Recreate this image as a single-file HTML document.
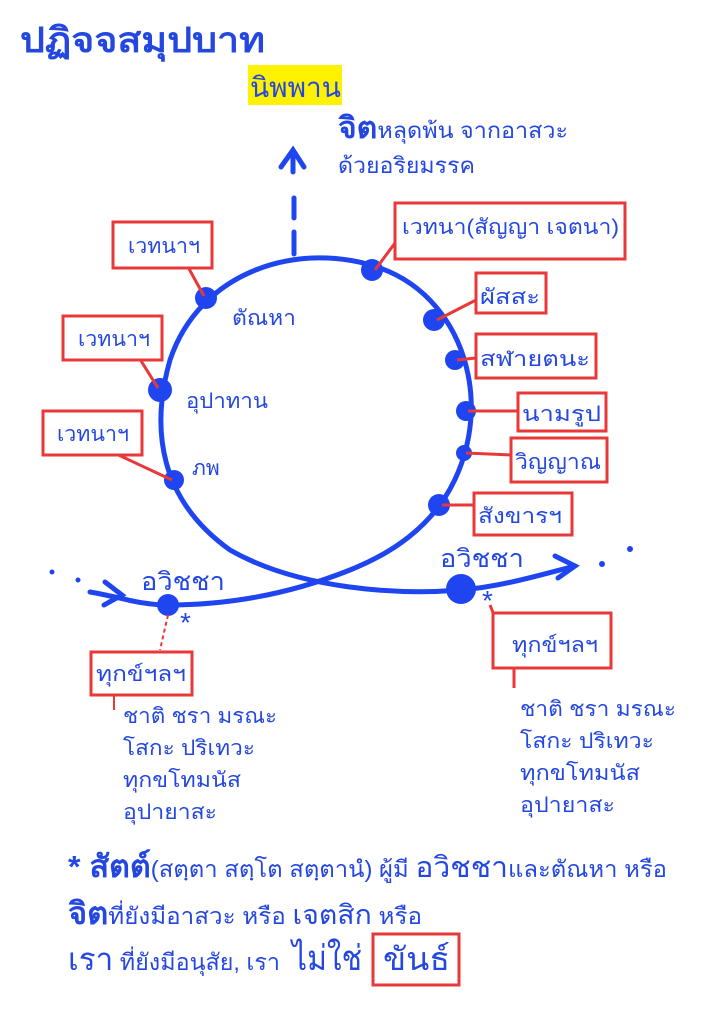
<!DOCTYPE html>
<html><head><meta charset="utf-8"><style>
body{margin:0;background:#fff;width:720px;height:1018px;overflow:hidden}
svg text{font-family:"Liberation Sans","Noto Sans CJK SC",sans-serif;fill:#2447e0}
</style></head><body>
<svg width="720" height="1018" viewBox="0 0 720 1018" xmlns="http://www.w3.org/2000/svg">
<text x="20" y="52" font-size="35" font-weight="bold" fill="#1f45e6" textLength="245" lengthAdjust="spacingAndGlyphs">ปฏิจจสมุปบาท</text>
<rect x="248" y="65" width="94" height="40" fill="#fff200"/>
<text x="250" y="97" font-size="28" fill="#2447e0">นิพพาน</text>
<text x="338" y="138" font-size="22" textLength="230" lengthAdjust="spacingAndGlyphs"><tspan font-size="30" font-weight="bold">จิต</tspan>หลุดพ้น จากอาสวะ</text>
<text x="338" y="173" font-size="22" textLength="137" lengthAdjust="spacingAndGlyphs">ด้วยอริยมรรค</text>
<g stroke="#1f45f0" stroke-width="5" fill="none" stroke-linecap="round">
<path d="M281,167 L293,150 L304,167 M293,150 L293,172"/>
<path d="M294,198 L294,218 M294,232 L294,254"/>
<path d="M440,505 C500,420 470,300 380,268 C300,240 200,270 170,360 C150,430 160,500 230,550 C300,590 400,595 460,590 C500,587 540,575 575,566"/>
<path d="M90,592 C120,597 140,605 168,605 C240,605 300,590 350,570 C400,550 425,525 440,505"/>
<path d="M555,556 L575,566 L558,578"/>
<path d="M105,582 L122,595 L104,605"/>
</g>
<g fill="#1f45f0">
<circle cx="206" cy="298" r="11"/><circle cx="160" cy="390" r="12"/><circle cx="174" cy="480" r="10"/>
<circle cx="372" cy="270" r="11"/><circle cx="434" cy="320" r="11"/><circle cx="455" cy="360" r="10"/>
<circle cx="466" cy="411" r="10"/><circle cx="464" cy="453" r="8"/><circle cx="439" cy="505" r="11"/>
<circle cx="168" cy="605" r="11"/><circle cx="461" cy="589" r="15"/>
<circle cx="52" cy="572" r="2.5"/><circle cx="78" cy="580" r="2.5"/><circle cx="602" cy="564" r="3"/><circle cx="630" cy="549" r="3"/>
</g>
<g stroke="#e8383a" stroke-width="3" fill="#fff">
<line x1="188" y1="267" x2="204" y2="296"/><line x1="138" y1="356" x2="158" y2="388"/><line x1="112" y1="452" x2="172" y2="480"/>
<line x1="395" y1="243" x2="375" y2="270"/><line x1="476" y1="300" x2="437" y2="320"/><line x1="476" y1="358" x2="457" y2="360"/>
<line x1="518" y1="411" x2="468" y2="411"/><line x1="511" y1="455" x2="466" y2="453"/><line x1="474" y1="505" x2="442" y2="505"/>
<line x1="490" y1="605" x2="500" y2="630"/><line x1="514" y1="668" x2="514" y2="688"/>
<line x1="114" y1="695" x2="114" y2="710" stroke-width="2"/>
<rect x="113" y="222" width="99" height="46"/>
<rect x="63" y="316" width="99" height="44"/>
<rect x="43" y="411" width="99" height="44"/>
<rect x="395" y="203" width="230" height="56"/>
<rect x="476" y="273" width="70" height="40"/>
<rect x="476" y="334" width="120" height="44"/>
<rect x="518" y="393" width="88" height="38"/>
<rect x="511" y="438" width="96" height="44"/>
<rect x="474" y="493" width="98" height="42"/>
<rect x="493" y="613" width="118" height="55"/>
<rect x="91" y="652" width="101" height="43"/>
<rect x="373" y="934" width="86" height="51"/>
</g>
<line x1="168" y1="615" x2="160" y2="650" stroke="#e8383a" stroke-width="2" stroke-dasharray="4,3"/>
<g font-size="21">
<text x="128" y="253" textLength="72" lengthAdjust="spacingAndGlyphs">เวทนาฯ</text>
<text x="78" y="346" textLength="72" lengthAdjust="spacingAndGlyphs">เวทนาฯ</text>
<text x="57" y="441" textLength="72" lengthAdjust="spacingAndGlyphs">เวทนาฯ</text>
<text x="402" y="234" textLength="217" lengthAdjust="spacingAndGlyphs">เวทนา(สัญญา เจตนา)</text>
<text x="480" y="304" textLength="60" lengthAdjust="spacingAndGlyphs">ผัสสะ</text>
<text x="480" y="366" textLength="110" lengthAdjust="spacingAndGlyphs">สฬายตนะ</text>
<text x="522" y="421" textLength="79" lengthAdjust="spacingAndGlyphs">นามรูป</text>
<text x="515" y="469" textLength="86" lengthAdjust="spacingAndGlyphs">วิญญาณ</text>
<text x="478" y="523" textLength="84" lengthAdjust="spacingAndGlyphs">สังขารฯ</text>
<text x="232" y="325" textLength="64" lengthAdjust="spacingAndGlyphs">ตัณหา</text>
<text x="186" y="408" textLength="82" lengthAdjust="spacingAndGlyphs">อุปาทาน</text>
<text x="192" y="475">ภพ</text>
<text x="141" y="590" font-size="25" textLength="84" lengthAdjust="spacingAndGlyphs">อวิชชา</text>
<text x="440" y="567" font-size="25" textLength="84" lengthAdjust="spacingAndGlyphs">อวิชชา</text>
<text x="180" y="632" font-size="28">*</text><text x="482" y="610" font-size="28">*</text>
<text x="512" y="652" textLength="86" lengthAdjust="spacingAndGlyphs">ทุกข์ฯลฯ</text>
<text x="96" y="681" textLength="90" lengthAdjust="spacingAndGlyphs">ทุกข์ฯลฯ</text>
<text x="123" y="723" textLength="154" lengthAdjust="spacingAndGlyphs">ชาติ ชรา มรณะ</text>
<text x="123" y="755" textLength="132" lengthAdjust="spacingAndGlyphs">โสกะ ปริเทวะ</text>
<text x="123" y="787" textLength="118" lengthAdjust="spacingAndGlyphs">ทุกขโทมนัส</text>
<text x="123" y="819" textLength="94" lengthAdjust="spacingAndGlyphs">อุปายาสะ</text>
<text x="520" y="716" textLength="156" lengthAdjust="spacingAndGlyphs">ชาติ ชรา มรณะ</text>
<text x="520" y="748" textLength="134" lengthAdjust="spacingAndGlyphs">โสกะ ปริเทวะ</text>
<text x="520" y="780" textLength="120" lengthAdjust="spacingAndGlyphs">ทุกขโทมนัส</text>
<text x="520" y="812" textLength="95" lengthAdjust="spacingAndGlyphs">อุปายาสะ</text>
<text x="68" y="877" font-size="23" textLength="599" lengthAdjust="spacingAndGlyphs"><tspan font-size="31" font-weight="bold">* สัตต์</tspan>(สตฺตา  สตฺโต  สตฺตานํ) ผู้มี <tspan font-size="29">อวิชชา</tspan>และตัณหา หรือ</text>
<text x="68" y="924" font-size="23" textLength="354" lengthAdjust="spacingAndGlyphs"><tspan font-size="31" font-weight="bold">จิต</tspan>ที่ยังมีอาสวะ หรือ  <tspan font-size="27">เจตสิก</tspan> หรือ</text>
<text x="68" y="970" font-size="23" textLength="212" lengthAdjust="spacingAndGlyphs"><tspan font-size="31">เรา</tspan> ที่ยังมีอนุสัย, เรา</text>
<text x="292" y="970" font-size="35" textLength="70" lengthAdjust="spacingAndGlyphs">ไม่ใช่</text>
<text x="383" y="970" font-size="32" textLength="67" lengthAdjust="spacingAndGlyphs">ขันธ์</text>
</g>
</svg>
</body></html>
